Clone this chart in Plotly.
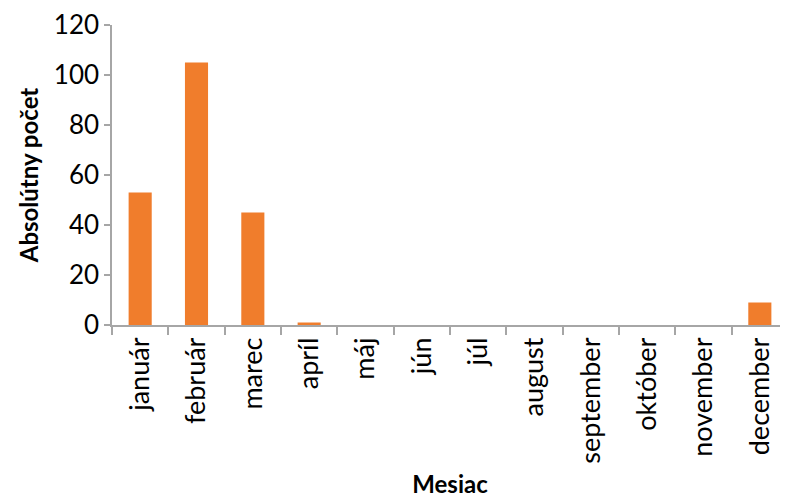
import plotly.graph_objects as go

months = ["január", "február", "marec", "apríl", "máj", "jún", "júl",
          "august", "september", "október", "november", "december"]
counts = [53, 105, 45, 1, 0, 0, 0, 0, 0, 0, 0, 9]
y_ticks = [0, 20, 40, 60, 80, 100, 120]

font_family = "Lato, 'Open Sans', sans-serif"

fig = go.Figure(go.Bar(
    x=months, y=counts,
    marker=dict(color="#F07D2C", line=dict(width=0)),
    width=0.41,
))

fig.update_layout(
    width=780, height=490,
    margin=dict(l=104, r=0, t=12, b=173),
    plot_bgcolor="white", paper_bgcolor="white",
    showlegend=False,
    font=dict(family=font_family, color="#000000"),
)
fig.update_xaxes(
    range=[-0.5, 11.5],
    showline=True, linecolor="#A6A6A6", linewidth=1.5,
    ticks="outside", tickson="boundaries", ticklen=8, tickcolor="#A6A6A6", tickwidth=1.5,
    tickangle=-90, tickfont=dict(size=27),
    showgrid=False,
    title=dict(text="<b>Mesiac</b>", font=dict(size=24), standoff=16),
)
fig.update_yaxes(
    range=[0, 120], tickvals=y_ticks,
    showline=True, linecolor="#A6A6A6", linewidth=1.5,
    ticks="outside", ticklen=6, tickcolor="#A6A6A6", tickwidth=1.5,
    tickfont=dict(size=26), ticklabeloverflow="allow",
    showgrid=False, zeroline=False,
    title=dict(text="<b>Absolútny počet</b>", font=dict(size=24), standoff=8),
)

fig.write_html("out.html")
